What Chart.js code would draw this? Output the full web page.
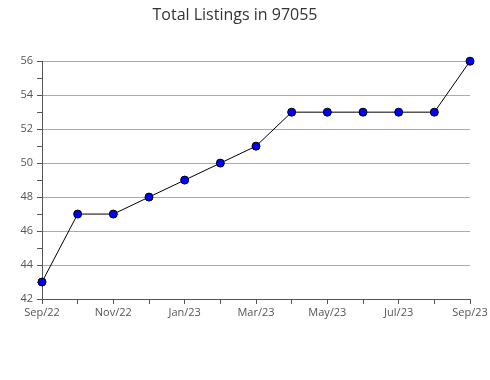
<!DOCTYPE html>
<html>
<head>
<meta charset="utf-8">
<script src="https://cdn.jsdelivr.net/npm/chart.js@4"></script>
<style>
  body { margin: 0; background: #fff; }
</style>
</head>
<body>
<canvas id="grafica" width="490" height="380"></canvas>
<script>
var meses = ['Sep/22', 'Oct/22', 'Nov/22', 'Dec/22', 'Jan/23', 'Feb/23', 'Mar/23',
             'Apr/23', 'May/23', 'Jun/23', 'Jul/23', 'Aug/23', 'Sep/23'];
var listados = [43, 47, 47, 48, 49, 50, 51, 53, 53, 53, 53, 53, 56];
var yMin = 42, yMax = 56;

var fuente = "'Open Sans', 'DejaVu Sans', sans-serif";

var chart = new Chart(document.getElementById('grafica').getContext('2d'), {
    type: 'line',
    data: {
        labels: meses,
        datasets: [{
            label: 'Total Listings',
            data: listados,
            borderColor: '#000',
            borderWidth: 1,
            backgroundColor: '#0000ff',
            pointBackgroundColor: '#0000ff',
            pointBorderColor: '#000',
            pointBorderWidth: 1,
            pointRadius: 4,
            tension: 0,
            clip: false
        }]
    },
    options: {
        responsive: false,
        animation: false,
        maintainAspectRatio: false,
        layout: { padding: { left: 0, right: 20, top: 0, bottom: 59 } },
        plugins: {
            legend: { display: false },
            tooltip: { enabled: false },
            title: {
                display: true,
                text: 'Total Listings in 97055',
                color: '#333',
                font: { family: fuente, size: 16, weight: 'normal' },
                padding: { top: 6, bottom: 36 }
            }
        },
        scales: {
            x: {
                offset: false,
                border: { color: '#555' },
                grid: { color: 'transparent', tickColor: '#555', tickLength: 5, drawOnChartArea: false },
                ticks: {
                    autoSkip: false,
                    maxRotation: 0,
                    color: '#555',
                    padding: 2,
                    font: { family: fuente, size: 11 },
                    callback: function(v, i) { return i % 2 == 0 ? meses[i] : ''; }
                },
                afterFit: function(s) { s.height = 22; }
            },
            y: {
                min: yMin,
                max: yMax,
                border: { color: '#555' },
                grid: {
                    color: function(c) { return c.tick && c.tick.value % 2 == 0 ? '#aaa' : 'transparent'; },
                    tickColor: '#555',
                    tickLength: 5
                },
                ticks: {
                    stepSize: 1,
                    color: '#555',
                    padding: 4,
                    font: { family: fuente, size: 11 },
                    callback: function(v) { return v % 2 == 0 ? v : ''; }
                },
                afterFit: function(s) { s.width = 42; }
            }
        }
    }
});
</script>
</body>
</html>
